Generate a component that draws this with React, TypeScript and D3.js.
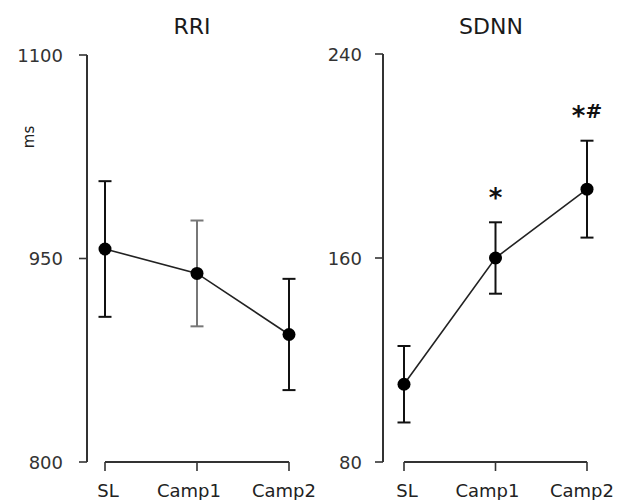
import React from "react";
import * as d3 from "d3";

const categories = ["SL", "Camp1", "Camp2"];

const rriMean = [957, 939, 894];
const rriErr = [50, 39, 41];
const rriTicks = [800, 950, 1100];

const sdnnMean = [110.5, 160, 187];
const sdnnErr = [15, 14, 19];
const sdnnTicks = [80, 160, 240];
const sdnnMarks = ["", "*", "*#"];

const FONT = "'DejaVu Sans', Verdana, sans-serif";

type PanelProps = {
  title: string;
  means: number[];
  errs: number[];
  ticks: number[];
  marks?: string[];
  axisX: number;
  xRange: [number, number];
  yRange: [number, number];
  titleX: number;
  labelGap: number;
  unit?: string;
  errColors?: string[];
};

const labelDx = [3, -8, -5];

function Panel(p: PanelProps) {
  const x = d3.scalePoint<string>().domain(categories).range(p.xRange).padding(0);
  const y = d3
    .scaleLinear()
    .domain([p.ticks[0], p.ticks[p.ticks.length - 1]])
    .range(p.yRange);
  const pts = categories.map((c, i) => [x(c) as number, y(p.means[i])] as [number, number]);
  const line = d3.line<[number, number]>()(pts) || "";
  const y0 = p.yRange[0];
  const capW = 6.5;
  return (
    <g>
      <text
        x={p.titleX}
        y={34}
        textAnchor="middle"
        fontFamily={FONT}
        fontSize={22}
        fill="#1a1a1a"
      >
        {p.title}
      </text>
      {p.unit && (
        <text
          transform={`translate(29,137) rotate(-90)`}
          textAnchor="middle"
          dominantBaseline="central"
          fontFamily={FONT}
          fontSize={15}
          fill="#222"
        >
          {p.unit}
        </text>
      )}
      {/* y axis */}
      <line x1={p.axisX} x2={p.axisX} y1={y(p.ticks[0])} y2={y(p.ticks[p.ticks.length - 1])} stroke="#333" strokeWidth={2} />
      {p.ticks.map((t) => (
        <g key={t}>
          <line x1={p.axisX - 8} x2={p.axisX} y1={y(t)} y2={y(t)} stroke="#333" strokeWidth={1.6} />
          <text
            x={p.axisX - p.labelGap}
            y={y(t)}
            textAnchor="end"
            dominantBaseline="central"
            fontFamily={FONT}
            fontSize={18}
            fill="#333"
          >
            {t}
          </text>
        </g>
      ))}
      {/* x axis */}
      <line x1={p.xRange[0]} x2={p.xRange[1]} y1={y0} y2={y0} stroke="#333" strokeWidth={2} />
      {categories.map((c, i) => (
        <g key={c}>
          <line x1={x(c)} x2={x(c)} y1={y0} y2={y0 + 9} stroke="#333" strokeWidth={1.6} />
          <text
            x={(x(c) as number) + labelDx[i]}
            y={y0 + 35}
            textAnchor="middle"
            fontFamily={FONT}
            fontSize={18}
            fill="#222"
          >
            {c}
          </text>
        </g>
      ))}
      {/* error bars */}
      {categories.map((c, i) => {
        const cx = x(c) as number;
        const top = y(p.means[i] + p.errs[i]);
        const bot = y(p.means[i] - p.errs[i]);
        const col = p.errColors ? p.errColors[i] : "#111";
        return (
          <g key={c} stroke={col} strokeWidth={2}>
            <line x1={cx} x2={cx} y1={top} y2={bot} />
            <line x1={cx - capW} x2={cx + capW} y1={top} y2={top} />
            <line x1={cx - capW} x2={cx + capW} y1={bot} y2={bot} />
          </g>
        );
      })}
      <path d={line} fill="none" stroke="#222" strokeWidth={1.6} />
      {pts.map((pt, i) => (
        <circle key={i} cx={pt[0]} cy={pt[1]} r={6.5} fill="#000" />
      ))}
      {p.marks &&
        categories.map((c, i) => {
          const m = p.marks![i];
          if (!m) return null;
          const cx = x(c) as number;
          const top = y(p.means[i] + p.errs[i]);
          return (
            <text
              key={c}
              x={cx}
              y={top - 23}
              textAnchor="middle"
              fontFamily={FONT}
              fontSize={20}
              fontWeight="bold"
              fill="#111"
            >
              {m.split("").map((ch, k) =>
                ch === "*" ? (
                  <tspan key={k} fontSize={26} dy={7.5}>
                    *
                  </tspan>
                ) : (
                  <tspan key={k} dy={-7.5} fontSize={20}>
                    {ch}
                  </tspan>
                )
              )}
            </text>
          );
        })}
    </g>
  );
}

export default function App() {
  return (
    <svg
      width={629}
      height={500}
      style={{ position: "absolute", left: 0, top: 0, background: "#fff" }}
    >
      <rect width={629} height={500} fill="#fff" />
      <Panel
        title="RRI"
        means={rriMean}
        errs={rriErr}
        ticks={rriTicks}
        axisX={87}
        xRange={[105, 289]}
        yRange={[462, 55]}
        titleX={192}
        labelGap={24}
        unit="ms"
        errColors={["#111", "#777", "#111"]}
      />
      <Panel
        title="SDNN"
        means={sdnnMean}
        errs={sdnnErr}
        ticks={sdnnTicks}
        marks={sdnnMarks}
        axisX={383}
        xRange={[404, 587]}
        yRange={[462, 54]}
        titleX={491}
        labelGap={21}
      />
    </svg>
  );
}
